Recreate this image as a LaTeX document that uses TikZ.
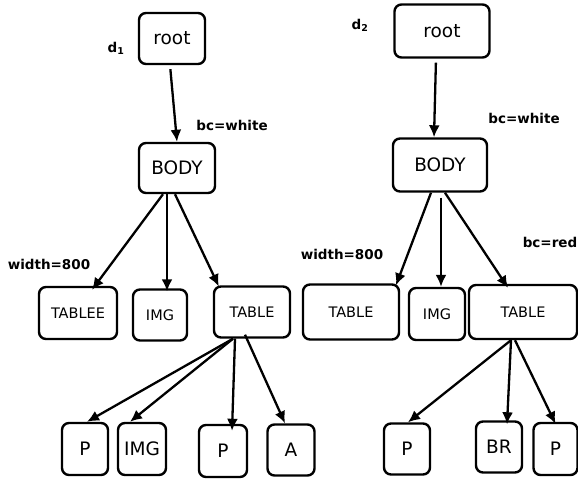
\documentclass[tikz,border=0pt]{standalone}
\usepackage{fontspec}
\setmainfont{DejaVu Sans}
\usetikzlibrary{arrows.meta}

\tikzset{
  box/.style={draw, line width=2.4pt, rounded corners=7pt, inner sep=0pt,
    minimum height=51pt, font=\fontsize{18.5}{20}\selectfont},
  smallbox/.style={box, font=\fontsize{14.5}{16}\selectfont},
  tag/.style={font=\bfseries\fontsize{13.5}{15}\selectfont},
  edge/.style={line width=2.3pt, -{Latex[length=12pt,width=11pt]}},
}

\begin{document}
\begin{tikzpicture}[x=1pt, y=-1pt]
\useasboundingbox (0,0) rectangle (578,479);

% Left document d1
\node[tag] (d1) at (116,48) {d\textsubscript{1}};
\node[box, minimum width=66pt] (root1) at (172,38.5) {root};
\node[box, minimum width=76pt, minimum height=50pt] (body1) at (177,168) {BODY};
\node[tag] (bcw1) at (232,125) {bc=white};
\node[tag] (wd1) at (49,264) {width=800};

\node[smallbox, minimum width=78pt, minimum height=52pt] (tablee) at (78,313) {TABLEE};
\node[smallbox, minimum width=54pt] (img1) at (160,315) {IMG};
\node[smallbox, minimum width=76pt] (table1) at (252,312) {TABLE};

\node[box, minimum width=46pt, minimum height=52pt] (p1) at (85,449) {P};
\node[box, minimum width=48pt, minimum height=52pt] (img2) at (142,449) {IMG};
\node[box, minimum width=48pt, minimum height=52pt] (p2) at (223,451) {P};
\node[box, minimum width=47pt, minimum height=51pt] (a) at (291,450) {A};

\draw[edge, shorten <=4pt] ([xshift=-2pt]root1.south) -- (body1.north);
\draw[edge] ([xshift=-14pt]body1.south) -- ([xshift=14pt,yshift=-4pt]tablee.north);
\draw[edge] ([xshift=-10pt]body1.south) -- ([xshift=7pt,yshift=-3pt]img1.north);
\draw[edge] ([xshift=-2pt]body1.south) -- ([xshift=6pt,yshift=-1pt]table1.north west);
\draw[edge] ([xshift=-19pt]table1.south) -- ([xshift=2pt]p1.north);
\draw[edge] ([xshift=-19pt]table1.south) -- ([xshift=-12pt]img2.north);
\draw[edge] ([xshift=-17pt]table1.south) -- ([xshift=9pt,yshift=-7pt]p2.north);
\draw[edge] ([xshift=-7pt,yshift=4pt]table1.south) -- ([xshift=-6pt]a.north);

% Right document d2
\node[tag] (d2) at (360,25) {d\textsubscript{2}};
\node[box, minimum width=95pt, minimum height=53pt] (root2) at (442,31) {root};
\node[box, minimum width=94pt, minimum height=53pt] (body2) at (440,165) {BODY};
\node[tag] (bcw2) at (524,118) {bc=white};
\node[tag] (wd2) at (342,254) {width=800};
\node[tag] (bcr) at (550,242) {bc=red};

\node[smallbox, minimum width=96pt, minimum height=55pt] (table2) at (351,312) {TABLE};
\node[smallbox, minimum width=56pt, minimum height=52pt] (img3) at (437,314) {IMG};
\node[smallbox, minimum width=108pt, minimum height=54pt] (table3) at (523,312) {TABLE};

\node[box, minimum width=46pt] (p3) at (407,449) {P};
\node[box, minimum width=46pt] (br) at (499,447) {BR};
\node[box, minimum width=44pt, minimum height=52pt] (p4) at (555.5,449) {P};

\draw[edge, shorten <=4pt] ([xshift=-6pt]root2.south) -- ([xshift=-6pt]body2.north);
\draw[edge] ([xshift=-9pt]body2.south) -- ([xshift=45pt,yshift=-2pt]table2.north);
\draw[edge, shorten <=5pt] ([xshift=1pt]body2.south) -- ([xshift=4pt]img3.north);
\draw[edge] ([xshift=5pt]body2.south) -- ([xshift=-15pt,yshift=-4pt]table3.north);
\draw[edge] ([xshift=-12pt]table3.south) -- ([xshift=1pt]p3.north);
\draw[edge] ([xshift=-12pt]table3.south) -- ([xshift=8pt,yshift=-4pt]br.north);
\draw[edge] ([xshift=-8pt]table3.south) -- ([yshift=-2pt]p4.north);

\end{tikzpicture}
\end{document}
